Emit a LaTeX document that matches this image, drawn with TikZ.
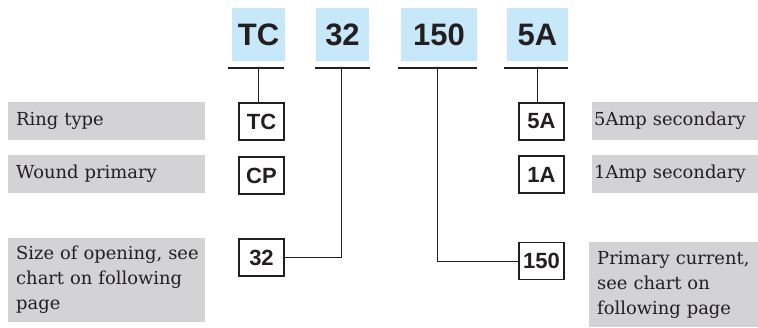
\documentclass[tikz,border=0pt]{standalone}
\usepackage{fontspec}
\setmainfont{DejaVu Serif}
\newfontfamily\boldsans{Liberation Sans}
\definecolor{ink}{HTML}{231F20}
\definecolor{skyfill}{HTML}{C6E8F8}
\definecolor{greyfill}{HTML}{D3D3D5}
\begin{document}
\begin{tikzpicture}[x=1pt,y=-1pt,
  bigbox/.style={fill=skyfill, minimum height=53pt, inner sep=0pt, text=ink,
     font=\boldsans\bfseries\fontsize{31}{31}\selectfont},
  codebox/.style={draw=ink, line width=1.1pt, minimum width=45pt, minimum height=37pt, inner sep=0pt,
     text=ink, font=\boldsans\bfseries\fontsize{22}{22}\selectfont},
  descbox/.style={fill=greyfill, anchor=west, align=left, inner ysep=0pt, text=ink,
     font=\fontsize{17.9}{25}\selectfont},
  link/.style={draw=ink, line width=1pt},
  bar/.style={draw=ink, line width=1.3pt}]
\useasboundingbox (0,0) rectangle (758,327);
% top code boxes
\node[bigbox, minimum width=53pt] (bTC) at (258.5,34.5) {TC};
\node[bigbox, minimum width=53pt] (b32) at (342.5,34.5) {32};
\node[bigbox, minimum width=76pt] (b150) at (439,34.5) {150};
\node[bigbox, minimum width=61pt] (b5A) at (537.5,34.5) {5A};
% underlines
\coordinate (uTCa) at (228,68); \coordinate (uTCb) at (284,68);
\coordinate (u32a) at (315,68); \coordinate (u32b) at (370,68);
\coordinate (u150a) at (398,68); \coordinate (u150b) at (477,68);
\coordinate (u5Aa) at (504,68); \coordinate (u5Ab) at (568,68);
\draw[bar] (uTCa) -- (uTCb);
\draw[bar] (u32a) -- (u32b);
\draw[bar] (u150a) -- (u150b);
\draw[bar] (u5Aa) -- (u5Ab);
\coordinate (tTC) at (258,68);
\coordinate (t32) at (341,68);
\coordinate (t150) at (437,68);
\coordinate (t5A) at (537,68);
% small code boxes
\node[codebox] (sTC) at (261.5,121.5) {TC};
\node[codebox] (sCP) at (261.5,175.5) {CP};
\node[codebox] (s32) at (261.5,257.5) {32};
\node[codebox] (s5A) at (541.5,121.5) {5A};
\node[codebox] (s1A) at (541.5,174.5) {1A};
\node[codebox] (s150) at (541.5,261) {150};
% connectors
\draw[link] (tTC) -- (tTC |- sTC.north);
\draw[link] (t32) |- (s32.east);
\draw[link] (t150) |- (s150.west);
\draw[link] (t5A) -- (t5A |- s5A.north);
% descriptions
\node[descbox, minimum width=197pt, minimum height=38pt, text width=181pt, inner xsep=8pt] (gRing) at (8,121) {\mbox{Ring type}};
\node[descbox, minimum width=197pt, minimum height=38pt, text width=181pt, inner xsep=8pt] (gWound) at (8,174) {\mbox{Wound primary}};
\node[descbox, minimum width=197pt, minimum height=84pt, text width=181pt, inner xsep=8pt] (gSize) at (8,280) {\mbox{Size of opening, see}\\\mbox{chart on following}\\\mbox{page}};
\node[descbox, minimum width=166pt, minimum height=38pt, text width=162pt, inner xsep=2pt] (g5Amp) at (592,121) {\mbox{5Amp secondary}};
\node[descbox, minimum width=166pt, minimum height=38pt, text width=162pt, inner xsep=2pt] (g1Amp) at (592,174) {\mbox{1Amp secondary}};
\node[descbox, minimum width=169pt, minimum height=85pt, text width=153pt, inner xsep=8pt] (gPrim) at (589,284.5) {\mbox{Primary current,}\\\mbox{see chart on}\\\mbox{following page}};
\end{tikzpicture}
\end{document}
